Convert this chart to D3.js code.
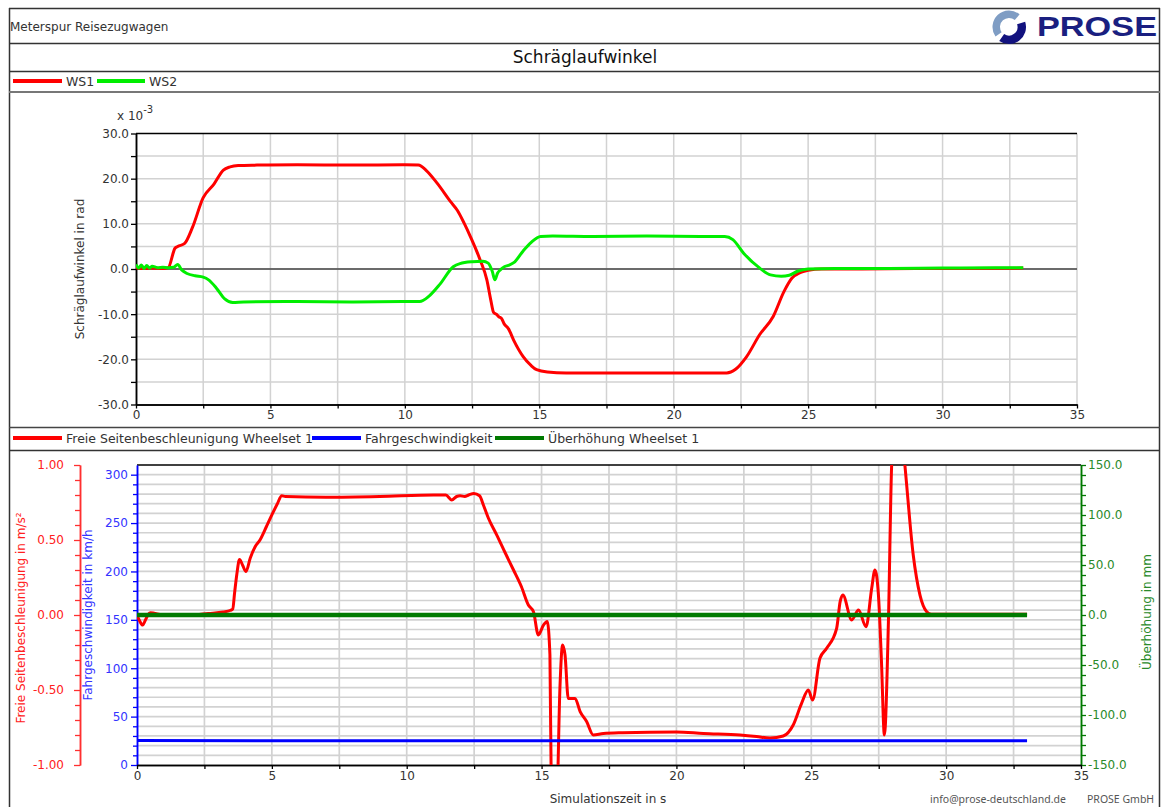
<!DOCTYPE html>
<html>
<head>
<meta charset="utf-8">
<script src="https://cdn.jsdelivr.net/npm/d3@7"></script>
<style>
  body { margin: 0; background: #fff; }
  text { font-family: "DejaVu Sans", Verdana, sans-serif; }
</style>
</head>
<body>
<div id="container"></div>
<script>
// ---- data: Schräglaufwinkel (x 10^-3 rad) ----
const ws1_t = [0, 0.3, 0.6, 1.0, 1.2, 1.45, 1.55, 1.8, 2.1, 2.5, 2.9, 3.25, 3.5, 3.8, 4.5, 6, 8, 10, 10.5, 10.8, 11.2, 11.7, 11.95, 12.2, 12.45, 12.8, 13.05, 13.2, 13.3, 13.4, 13.5, 13.6, 13.7, 13.85, 14.05, 14.4, 14.7, 14.9, 15.3, 16, 18, 20, 21.97, 22.3, 22.7, 23.2, 23.7, 24.1, 24.4, 24.7, 25, 25.5, 27, 29, 31, 33];
const ws1_v = [0.3, 0.1, 0.2, 0.1, 0.3, 4.6, 5.0, 5.6, 9.2, 15.8, 18.8, 21.9, 22.6, 22.9, 23.0, 23.1, 23.0, 23.1, 23.0, 21.8, 19.0, 14.9, 13.0, 10.2, 7.0, 2.0, -2.4, -7.0, -9.6, -10.0, -10.6, -11.0, -12.2, -13.2, -15.8, -19.4, -21.4, -22.3, -22.8, -23.0, -23.0, -23.0, -23.0, -22.2, -19.5, -14.5, -10.5, -5.0, -2.0, -0.8, -0.3, 0, 0, 0.1, 0.1, 0.2];

const ws2_t = [0, 0.1, 0.2, 0.3, 0.4, 0.5, 0.6, 0.8, 1.0, 1.2, 1.4, 1.55, 1.7, 1.9, 2.2, 2.5, 2.7, 3.0, 3.3, 3.6, 4, 6, 8, 10, 10.55, 10.9, 11.3, 11.8, 12.05, 12.5, 12.9, 13.1, 13.25, 13.35, 13.45, 13.55, 13.7, 13.85, 14.05, 14.4, 14.7, 15.05, 15.5, 17, 19, 21, 21.9, 22.2, 22.6, 23.2, 23.6, 24.0, 24.3, 24.6, 25, 26, 28, 30, 32, 33];
const ws2_v = [1.0, 0.2, 0.9, 0.1, 0.8, 0.2, 0.6, 0.3, 0.4, 0.3, 0.4, 1.0, -0.2, -1.0, -1.5, -1.8, -2.4, -4.3, -6.6, -7.4, -7.3, -7.2, -7.3, -7.2, -7.2, -6.0, -3.4, 0.5, 1.2, 1.6, 1.7, 1.3, -0.5, -2.4, -0.9, -0.2, 0.5, 0.8, 1.4, 4.0, 5.9, 7.2, 7.3, 7.2, 7.3, 7.2, 7.2, 6.5, 3.5, 0.2, -1.3, -1.6, -1.4, -0.5, 0, 0.1, 0.1, 0.2, 0.3, 0.3];

// ---- data: Seitenbeschleunigung (m/s²), Geschwindigkeit (km/h), Überhöhung (mm) ----
const acc_t = [0, 0.1, 0.21, 0.32, 0.42, 0.5, 1.0, 2.0, 2.64, 3.2, 3.45, 3.55, 3.62, 3.7, 3.8, 3.92, 4.04, 4.2, 4.38, 4.56, 4.8, 5.0, 5.2, 5.37, 5.5, 7, 9, 11, 11.45, 11.67, 11.85, 11.98, 12.15, 12.3, 12.49, 12.7, 12.85, 13.03, 13.34, 13.65, 13.96, 14.25, 14.51, 14.7, 14.88, 15.07, 15.21, 15.31, 15.37, 15.45, 15.56, 15.68, 15.78, 15.87, 15.99, 16.24, 16.43, 16.67, 16.92, 17.29, 18, 20, 21, 22.36, 22.97, 23.47, 23.96, 24.33, 24.64, 24.89, 25.05, 25.32, 25.57, 25.94, 26.07, 26.17, 26.5, 26.75, 27.03, 27.24, 27.36, 27.49, 27.6, 27.71, 27.86, 27.98, 28.2, 28.47, 28.78, 29.03, 29.28, 29.45, 30, 31, 32, 33];
const acc_v = [0, -0.04, -0.067, -0.03, 0.005, 0.015, 0.0, 0.0, 0.01, 0.02, 0.03, 0.04, 0.15, 0.27, 0.37, 0.33, 0.29, 0.38, 0.455, 0.5, 0.59, 0.667, 0.74, 0.795, 0.79, 0.785, 0.79, 0.80, 0.80, 0.767, 0.79, 0.795, 0.79, 0.80, 0.81, 0.795, 0.73, 0.645, 0.533, 0.415, 0.3, 0.19, 0.067, 0.022, -0.133, -0.067, -0.044, -0.267, -1.3, -1.4, -1.3, -0.49, -0.2, -0.267, -0.556, -0.556, -0.644, -0.71, -0.8, -0.79, -0.785, -0.78, -0.79, -0.80, -0.81, -0.82, -0.807, -0.733, -0.589, -0.5, -0.567, -0.289, -0.222, -0.089, 0.089, 0.133, -0.033, 0.033, -0.078, 0.178, 0.3, 0.133, -0.3, -0.8, -0.044, 1.0, 1.5, 1.0, 0.4, 0.133, 0.022, 0.005, 0.005, 0.005, 0.005, 0.005];

const speed_t = [0, 5, 10, 15, 20, 25, 30, 33];
const speed_v = [25.2, 25.1, 25.0, 25.0, 25.0, 25.1, 25.0, 25.0];

const cant_t = [0, 33];
const cant_v = [0, 0];

const timeTicks = [0, 5, 10, 15, 20, 25, 30, 35];
const angleTicks = [-30, -20, -10, 0, 10, 20, 30];
const accTicks = [-1, -0.5, 0, 0.5, 1];
const speedTicks = [0, 50, 100, 150, 200, 250, 300];
const cantTicks = [-150, -100, -50, 0, 50, 100, 150];

const RED = "#ff0000", GREEN = "#00ee00", BLUE = "#0000ff", DKGREEN = "#007a00";
const NARROW = "'Noto Sans', 'Open Sans', sans-serif";

function zip(t, v) { return t.map((d, i) => [d, v[i]]); }

var svg = d3.select("#container").append("svg")
  .attr("width", 1167).attr("height", 807);

// ---- frame ----
function hline(y, x0, x1, color, w) {
  svg.append("line").attr("x1", x0).attr("x2", x1).attr("y1", y).attr("y2", y)
    .attr("stroke", color).attr("stroke-width", w);
}
svg.append("line").attr("x1", 9.5).attr("x2", 9.5).attr("y1", 8).attr("y2", 807).attr("stroke", "#333").attr("stroke-width", 1.5);
svg.append("line").attr("x1", 1159.5).attr("x2", 1159.5).attr("y1", 8).attr("y2", 807).attr("stroke", "#333").attr("stroke-width", 1.5);
hline(8.5, 9, 1160, "#333", 1.5);
hline(43.5, 9, 1160, "#333", 1.5);
hline(71.5, 9, 1160, "#333", 1.5);
hline(92, 9, 1160, "#777", 2);
hline(427.5, 9, 1160, "#444", 1.5);
hline(450.5, 9, 1160, "#333", 1.5);

// ---- header ----
svg.append("text").attr("x", 10).attr("y", 31).attr("font-size", 12).attr("fill", "#333")
  .text("Meterspur Reisezugwagen");

var logo = svg.append("g").attr("transform", "translate(1009,27)");
var ring = d3.arc().innerRadius(9).outerRadius(16.5);
var deg = Math.PI / 180;
logo.append("path").attr("d", ring({ startAngle: -125 * deg, endAngle: 40 * deg })).attr("fill", "#7f9dc4");
logo.append("path").attr("d", d3.arc().innerRadius(8.5).outerRadius(17)({ startAngle: 72 * deg, endAngle: 215 * deg })).attr("fill", "#12127e");
svg.append("text").attr("x", 1037).attr("y", 36).attr("font-size", 28).attr("font-weight", "bold")
  .style("font-family", "'Liberation Sans', Arial, sans-serif")
  .attr("fill", "#1a1f80").attr("textLength", 120).attr("lengthAdjust", "spacingAndGlyphs")
  .text("PROSE");

svg.append("text").attr("x", 585).attr("y", 63).attr("text-anchor", "middle")
  .attr("font-size", 17).attr("fill", "#111").text("Schräglaufwinkel");

// ---- legends ----
function legendItem(x0, x1, y, color, label) {
  svg.append("line").attr("x1", x0).attr("x2", x1).attr("y1", y).attr("y2", y)
    .attr("stroke", color).attr("stroke-width", 4);
  svg.append("text").attr("x", x1 + 4).attr("y", y + 4.5).attr("font-size", 12.5)
    .attr("fill", "#333").text(label);
}
legendItem(13, 62, 81, RED, "WS1");
legendItem(97, 145, 81, GREEN, "WS2");
legendItem(13, 62, 438, RED, "Freie Seitenbeschleunigung Wheelset 1");
legendItem(312, 361, 438, BLUE, "Fahrgeschwindigkeit");
legendItem(495, 544, 438, DKGREEN, "Überhöhung Wheelset 1");

function styleAxis(g, color, textColor) {
  g.select(".domain").attr("stroke", color).attr("stroke-width", 1.5);
  g.selectAll(".tick line").attr("stroke", color).attr("stroke-width", 1.3);
  g.selectAll(".tick text").attr("font-size", 12).attr("fill", textColor)
    .style("font-family", "'DejaVu Sans', Verdana, sans-serif");
}

// ---- top plot ----
var xTop = d3.scaleLinear().domain([0, 35]).range([136, 1077]);
var yTop = d3.scaleLinear().domain([-30, 30]).range([404.5, 133.5]);

var gridTop = svg.append("g").attr("stroke", "#d2d2d2").attr("stroke-width", 1.5);
gridTop.selectAll(".gy").data(d3.range(-25, 30, 5)).enter().append("line")
  .attr("x1", xTop(0)).attr("x2", xTop(35)).attr("y1", d => yTop(d)).attr("y2", d => yTop(d));
gridTop.selectAll(".gx").data(d3.range(2.5, 35.1, 2.5)).enter().append("line")
  .attr("x1", d => xTop(d)).attr("x2", d => xTop(d)).attr("y1", yTop(30)).attr("y2", yTop(-30));

hline(yTop(0), xTop(0), xTop(35), "#444", 1.5);
hline(yTop(30), xTop(0), xTop(35), "#000", 1.5);

var gyTop = svg.append("g").attr("transform", "translate(" + xTop(0) + ",0)")
  .call(d3.axisLeft(yTop).tickValues(angleTicks).tickFormat(d => d.toFixed(1)).tickSize(5).tickPadding(2).tickSizeOuter(0));
styleAxis(gyTop, "#000", "#333");
var gyTopMinor = svg.append("g").attr("transform", "translate(" + xTop(0) + ",0)")
  .call(d3.axisLeft(yTop).tickValues(d3.range(-25, 30, 10)).tickFormat("").tickSize(5).tickSizeOuter(0));
styleAxis(gyTopMinor, "#000", "#333");

var gxTop = svg.append("g").attr("transform", "translate(0," + yTop(-30) + ")")
  .call(d3.axisBottom(xTop).tickValues(timeTicks).tickFormat(d3.format("d")).tickSize(4).tickPadding(2).tickSizeOuter(0));
styleAxis(gxTop, "#000", "#333");
var gxTopMinor = svg.append("g").attr("transform", "translate(0," + yTop(-30) + ")")
  .call(d3.axisBottom(xTop).tickValues(d3.range(2.5, 35, 5)).tickFormat("").tickSize(4).tickSizeOuter(0));
styleAxis(gxTopMinor, "#000", "#333");

var sup = svg.append("text").attr("x", 117).attr("y", 120).attr("font-size", 12).attr("fill", "#333");
sup.append("tspan").text("x 10");
sup.append("tspan").attr("font-size", 10).attr("dy", -7).text("-3");

svg.append("text").attr("transform", "translate(84,269) rotate(-90)").attr("text-anchor", "middle")
  .attr("font-size", 12).attr("fill", "#333").text("Schräglaufwinkel in rad");

svg.append("clipPath").attr("id", "clipTop").append("rect")
  .attr("x", xTop(0)).attr("y", yTop(30)).attr("width", xTop(35) - xTop(0)).attr("height", yTop(-30) - yTop(30));

var lineTop = d3.line().x(d => xTop(d[0])).y(d => yTop(d[1])).curve(d3.curveMonotoneX);
var topLines = svg.append("g").attr("clip-path", "url(#clipTop)");
topLines.append("path").datum(zip(ws1_t, ws1_v)).attr("d", lineTop)
  .attr("fill", "none").attr("stroke", RED).attr("stroke-width", 3).attr("stroke-linejoin", "round");
topLines.append("path").datum(zip(ws2_t, ws2_v)).attr("d", lineTop)
  .attr("fill", "none").attr("stroke", GREEN).attr("stroke-width", 3).attr("stroke-linejoin", "round");

// ---- bottom plot ----
var xBot = d3.scaleLinear().domain([0, 35]).range([137, 1081]);
var ySpeed = d3.scaleLinear().domain([0, 310]).range([765, 465]);
var yAcc = d3.scaleLinear().domain([-1, 1]).range([765, 465]);
var yCant = d3.scaleLinear().domain([-150, 150]).range([765, 465]);

var gridBot = svg.append("g").attr("stroke", "#d2d2d2").attr("stroke-width", 1.7);
gridBot.selectAll(".gy").data(d3.range(10, 310, 10)).enter().append("line")
  .attr("x1", xBot(0)).attr("x2", xBot(35)).attr("y1", d => ySpeed(d)).attr("y2", d => ySpeed(d));
gridBot.selectAll(".gx").data(d3.range(2.5, 35, 2.5)).enter().append("line")
  .attr("x1", d => xBot(d)).attr("x2", d => xBot(d)).attr("y1", 465).attr("y2", 765);

hline(465, xBot(0), xBot(35), "#000", 1.5);

// acceleration axis (red)
var gAcc = svg.append("g").attr("transform", "translate(80,0)")
  .call(d3.axisLeft(yAcc).tickValues(accTicks).tickFormat(d => d.toFixed(2)).tickSize(6).tickPadding(10).tickSizeOuter(0));
styleAxis(gAcc, "#ff3030", "#ff2020");
var gAccMinor = svg.append("g").attr("transform", "translate(80,0)")
  .call(d3.axisLeft(yAcc).tickValues(d3.range(-0.9, 1, 0.1).filter(d => Math.abs(Math.round(d * 10) % 5) !== 0)).tickFormat("").tickSize(5).tickSizeOuter(0));
styleAxis(gAccMinor, "#ff3030", "#ff2020");

// speed axis (blue)
var gSpeed = svg.append("g").attr("transform", "translate(" + xBot(0) + ",0)")
  .call(d3.axisLeft(ySpeed).tickValues(speedTicks).tickSize(6).tickPadding(3).tickSizeOuter(0));
styleAxis(gSpeed, BLUE, "#3333ff");
var gSpeedMinor = svg.append("g").attr("transform", "translate(" + xBot(0) + ",0)")
  .call(d3.axisLeft(ySpeed).tickValues(d3.range(10, 310, 10).filter(d => d % 50 !== 0)).tickFormat("").tickSize(4).tickSizeOuter(0));
styleAxis(gSpeedMinor, BLUE, "#3333ff");

// cant axis (green)
var gCant = svg.append("g").attr("transform", "translate(" + xBot(35) + ",0)")
  .call(d3.axisRight(yCant).tickValues(cantTicks).tickFormat(d => d.toFixed(1)).tickSize(5).tickPadding(2).tickSizeOuter(0));
styleAxis(gCant, DKGREEN, "#2a8a2a");
var gCantMinor = svg.append("g").attr("transform", "translate(" + xBot(35) + ",0)")
  .call(d3.axisRight(yCant).tickValues(d3.range(-140, 150, 10).filter(d => d % 50 !== 0)).tickFormat("").tickSize(5).tickSizeOuter(0));
styleAxis(gCantMinor, DKGREEN, "#2a8a2a");

var gxBot = svg.append("g").attr("transform", "translate(0,765)")
  .call(d3.axisBottom(xBot).tickValues(timeTicks).tickFormat(d3.format("d")).tickSize(4).tickPadding(2).tickSizeOuter(0));
styleAxis(gxBot, "#000", "#333");
var gxBotMinor = svg.append("g").attr("transform", "translate(0,765)")
  .call(d3.axisBottom(xBot).tickValues(d3.range(2.5, 35, 5)).tickFormat("").tickSize(4).tickSizeOuter(0));
styleAxis(gxBotMinor, "#000", "#333");

svg.append("text").attr("transform", "translate(25,618) rotate(-90)").attr("text-anchor", "middle")
  .attr("font-size", 12).attr("fill", "#ff2020").text("Freie Seitenbeschleunigung in m/s²");
svg.append("text").attr("transform", "translate(92,615) rotate(-90)").attr("text-anchor", "middle")
  .attr("font-size", 12).attr("fill", "#3333ff").text("Fahrgeschwindigkeit in km/h");
svg.append("text").attr("transform", "translate(1151,612) rotate(-90)").attr("text-anchor", "middle")
  .attr("font-size", 12).attr("fill", "#2a8a2a").text("Überhöhung in mm");

svg.append("clipPath").attr("id", "clipBot").append("rect")
  .attr("x", xBot(0)).attr("y", 465).attr("width", xBot(35) - xBot(0)).attr("height", 300);

var botLines = svg.append("g").attr("clip-path", "url(#clipBot)");
botLines.append("path").datum(zip(acc_t, acc_v))
  .attr("d", d3.line().x(d => xBot(d[0])).y(d => yAcc(d[1])).curve(d3.curveMonotoneX))
  .attr("fill", "none").attr("stroke", RED).attr("stroke-width", 3).attr("stroke-linejoin", "round");
botLines.append("path").datum(zip(speed_t, speed_v))
  .attr("d", d3.line().x(d => xBot(d[0])).y(d => ySpeed(d[1])))
  .attr("fill", "none").attr("stroke", BLUE).attr("stroke-width", 3);
botLines.append("path").datum(zip(cant_t, cant_v))
  .attr("d", d3.line().x(d => xBot(d[0])).y(d => yCant(d[1])))
  .attr("fill", "none").attr("stroke", DKGREEN).attr("stroke-width", 4.5);

// ---- footer ----
svg.append("text").attr("x", 608).attr("y", 803).attr("text-anchor", "middle")
  .attr("font-size", 12).attr("fill", "#333").text("Simulationszeit in s");
svg.append("text").attr("x", 930).attr("y", 803).attr("font-size", 10.5).attr("fill", "#555")
  .style("font-family", NARROW).text("info@prose-deutschland.de");
svg.append("text").attr("x", 1087).attr("y", 803).attr("font-size", 10.5).attr("fill", "#555")
  .style("font-family", NARROW).text("PROSE GmbH");
</script>
</body>
</html>
